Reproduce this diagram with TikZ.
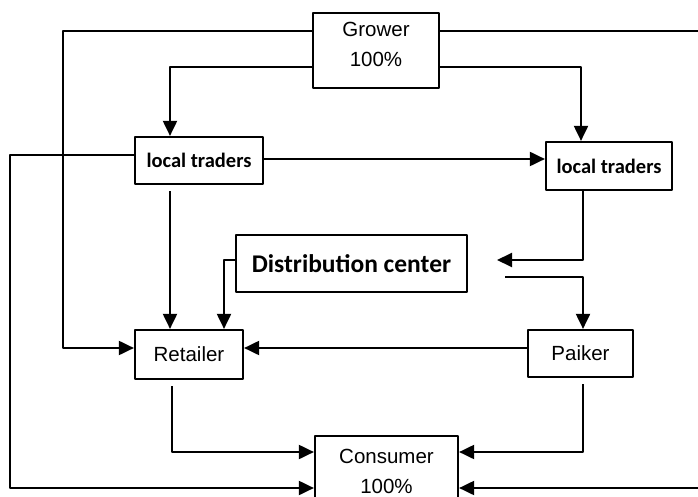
\documentclass[tikz,border=0pt]{standalone}
\usepackage{fontspec}
\setmainfont{Liberation Sans}
\newfontfamily\carlito{Carlito}
\usetikzlibrary{arrows.meta}

\begin{document}
\begin{tikzpicture}[x=1pt, y=-1pt, >={Triangle[length=15pt,width=14pt]}, line join=round,
    box/.style={draw, line width=2.2pt, inner sep=0pt, align=center, font=\fontsize{20.5}{30}\selectfont},
    tbox/.style={box, font=\carlito\bfseries\fontsize{20.5}{22}\selectfont},
    link/.style={line width=2pt}]
    \useasboundingbox (0,0) rectangle (698,497);
    \node[box, minimum width=126, minimum height=75] (grower) at (376,50.5) {Grower\\100\%\rule[-12pt]{0pt}{1pt}};
    \node[tbox, minimum width=128, minimum height=47] (lt1) at (199,160.5) {local traders};
    \node[tbox, minimum width=126, minimum height=48] (lt2) at (609,166) {local traders};
    \node[tbox, font=\carlito\bfseries\fontsize{25.5}{28}\selectfont, minimum width=231, minimum height=57] (dist) at (351.5,263.5) {Distribution center};
    \node[box, minimum width=108, minimum height=49] (retailer) at (189,354.5) {Retailer};
    \node[box, minimum width=105, minimum height=47] (paiker) at (580.5,353.5) {Paiker};
    \node[box, minimum width=143, minimum height=70] (consumer) at (386.5,471) {Consumer\\100\%};
    \coordinate (dc1) at (497,260);
    \coordinate (dc2) at (505,277);
    % from the grower
    \draw[link,->] ([yshift=19.5pt]grower.west) -| (63,200) |- ([yshift=6.5pt]retailer.west);
    \draw[link,->] ([yshift=-16.5pt]grower.west) -| ([xshift=-29pt]lt1.north);
    \draw[link,->] ([yshift=19.5pt]grower.east) -| (712,300) |- ([yshift=-17pt]consumer.east);
    \draw[link,->] ([yshift=-16.5pt]grower.east) -| ([xshift=-28pt]lt2.north);
    % local traders
    \draw[link,->] ([yshift=1.5pt]lt1.east) -- ([yshift=7pt]lt2.west);
    \draw[link,->] ([yshift=5.5pt]lt1.west) -| (10,300) |- ([yshift=-17pt]consumer.west);
    \draw[link,->,shorten <=6pt] ([xshift=-29pt]lt1.south) -- ([xshift=-19pt]retailer.north);
    \draw[link,->] ([yshift=3.5pt]dist.west) -| ([xshift=35pt]retailer.north);
    \draw[link,->] ([xshift=-26pt]lt2.south) |- (dc1);
    \draw[link,->] (dc2) -| ([xshift=2.5pt]paiker.north);
    % to the consumer
    \draw[link,->] ([yshift=5.5pt]paiker.west) -- ([yshift=6.5pt]retailer.east);
    \draw[link,->,shorten <=6pt] ([xshift=-17pt]retailer.south) |- ([yshift=19pt]consumer.west);
    \draw[link,->,shorten <=6pt] ([xshift=2.5pt]paiker.south) |- ([yshift=19pt]consumer.east);
\end{tikzpicture}
\end{document}
